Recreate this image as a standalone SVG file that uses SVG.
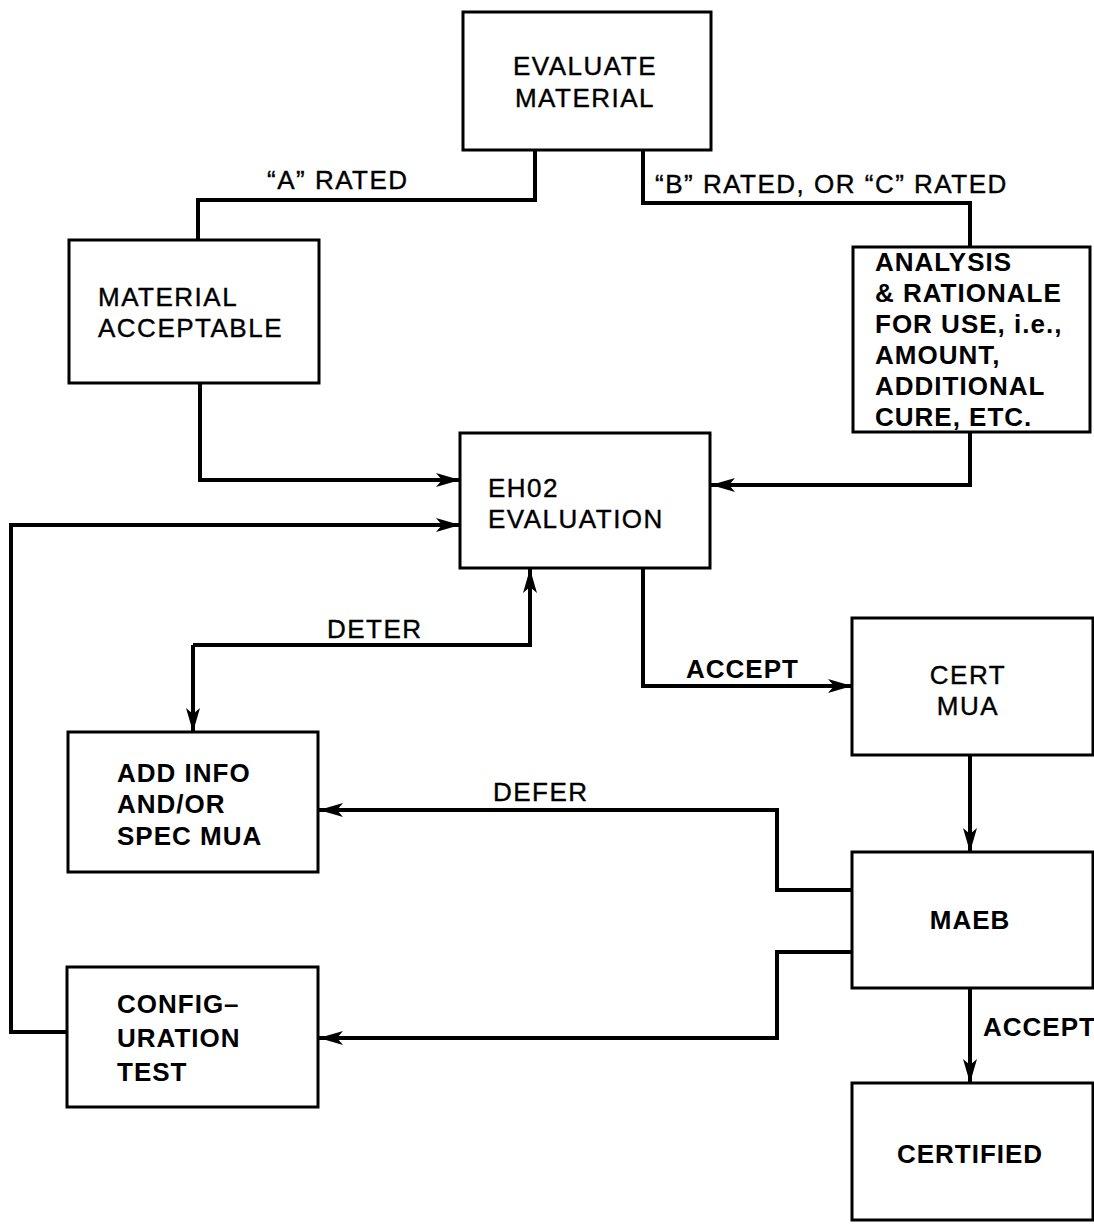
<svg xmlns="http://www.w3.org/2000/svg" width="1094" height="1226" viewBox="0 0 1094 1226">
<style>
.box{fill:#fff;stroke:#000;stroke-width:3}
.ln{fill:none;stroke:#000;stroke-width:4;stroke-linejoin:miter}
.t{font-family:"Liberation Sans",Arial,sans-serif;font-size:26px;fill:#000;stroke:#000;stroke-width:0.4;letter-spacing:1.5px}
.b{font-weight:bold;stroke-width:0;letter-spacing:1px}
.c{text-anchor:middle}
</style>
<defs>
<marker id="ah" markerUnits="userSpaceOnUse" markerWidth="26" markerHeight="16" refX="24" refY="8" orient="auto">
<path d="M0,1 L24,8 L0,15 L6,8 z" fill="#000"/>
</marker>
</defs>
<g id="connectors">
<polyline class="ln" points="535,150 535,200 198,200 198,240"/>
<polyline class="ln" points="643,150 643,203 970,203 970,247"/>
<polyline class="ln" points="200,383 200,480 460,480" marker-end="url(#ah)"/>
<polyline class="ln" points="970,432 970,485 711,485" marker-end="url(#ah)"/>
<polyline class="ln" points="67,1032 11,1032 11,525 460,525" marker-end="url(#ah)"/>
<polyline class="ln" points="193,645 530,645 530,569" marker-end="url(#ah)"/>
<polyline class="ln" points="193,645 193,732" marker-end="url(#ah)"/>
<polyline class="ln" points="643,568 643,686 852,686" marker-end="url(#ah)"/>
<polyline class="ln" points="970,756 970,852" marker-end="url(#ah)"/>
<polyline class="ln" points="852,890 777,890 777,810 319,810" marker-end="url(#ah)"/>
<polyline class="ln" points="852,952 777,952 777,1038 319,1038" marker-end="url(#ah)"/>
<polyline class="ln" points="970,988 970,1083" marker-end="url(#ah)"/>
<text class="t" x="267" y="189">“A” RATED</text>
<text class="t" x="655" y="193">“B” RATED, OR “C” RATED</text>
<text class="t" x="327" y="638">DETER</text>
<text class="t b" x="686" y="678">ACCEPT</text>
<text class="t" x="493" y="801">DEFER</text>
<text class="t b" x="983" y="1036" font-size="25" letter-spacing="0.5">ACCEPT</text>
</g>
<g id="evaluate">
<rect class="box" x="463" y="12" width="248" height="138"/>
<text class="t c" x="585" y="75" letter-spacing="2.5">EVALUATE</text>
<text class="t c" x="585" y="107" letter-spacing="2.5">MATERIAL</text>
</g>
<g id="acceptable">
<rect class="box" x="69" y="240" width="250" height="143"/>
<text class="t" x="98" y="306">MATERIAL</text>
<text class="t" x="98" y="337">ACCEPTABLE</text>
</g>
<g id="analysis">
<rect class="box" x="853" y="247" width="237" height="185"/>
<text class="t b" x="875" y="271">ANALYSIS</text>
<text class="t b" x="875" y="302">&amp; RATIONALE</text>
<text class="t b" x="875" y="333">FOR USE, i.e.,</text>
<text class="t b" x="875" y="364">AMOUNT,</text>
<text class="t b" x="875" y="395">ADDITIONAL</text>
<text class="t b" x="875" y="426">CURE, ETC.</text>
</g>
<g id="eh02">
<rect class="box" x="460" y="433" width="250" height="135"/>
<text class="t" x="488" y="497">EH02</text>
<text class="t" x="488" y="528">EVALUATION</text>
</g>
<g id="certmua">
<rect class="box" x="852" y="618" width="241" height="137"/>
<text class="t c" x="968" y="684">CERT</text>
<text class="t c" x="968" y="715">MUA</text>
</g>
<g id="addinfo">
<rect class="box" x="68" y="732" width="250" height="140"/>
<text class="t b" x="117" y="782">ADD INFO</text>
<text class="t b" x="117" y="813">AND/OR</text>
<text class="t b" x="117" y="845">SPEC MUA</text>
</g>
<g id="maeb">
<rect class="box" x="852" y="852" width="241" height="136"/>
<text class="t b c" x="970" y="929">MAEB</text>
</g>
<g id="config">
<rect class="box" x="67" y="967" width="251" height="140"/>
<text class="t b" x="117" y="1013">CONFIG–</text>
<text class="t b" x="117" y="1047">URATION</text>
<text class="t b" x="117" y="1081">TEST</text>
</g>
<g id="certified">
<rect class="box" x="852" y="1083" width="241" height="137"/>
<text class="t b c" x="970" y="1163">CERTIFIED</text>
</g>
</svg>
